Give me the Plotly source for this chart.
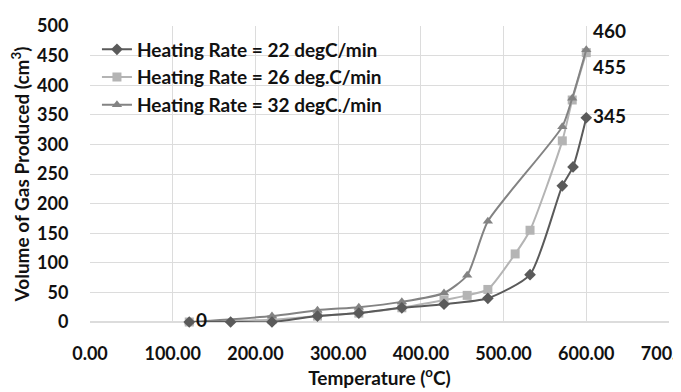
import plotly.graph_objects as go

# Series data (Temperature in degC, Volume in cm3)
temp_22 = [120, 170, 220, 275, 325, 377, 428, 481, 532, 571, 584, 600]
vol_22 = [0, 0, 0, 10, 15, 24, 30, 40, 80, 230, 262, 345]

temp_26 = [120, 220, 275, 325, 377, 428, 456, 481, 514, 532, 571, 583, 600]
vol_26 = [0, 4, 10, 15, 24, 37, 45, 55, 115, 155, 306, 375, 455]

temp_32 = [120, 220, 275, 325, 377, 428, 456, 481, 571, 583, 600]
vol_32 = [0, 10, 20, 25, 34, 49, 79, 170, 330, 378, 460]

names = ["Heating Rate = 22 degC/min", "Heating Rate = 26 deg.C/min", "Heating Rate = 32 degC./min"]
colors = ["#5a5a5a", "#b4b4b4", "#838383"]
symbols = ["diamond", "square", "triangle-up"]

FONT = "Lato"

def labels(vals, idx):
    return [str(v) if i in idx else "" for i, v in enumerate(vals)]

series = [
    (temp_22, vol_22, labels(vol_22, {0, len(vol_22) - 1}), ["middle right"] * len(vol_22)),
    (temp_26, vol_26, labels(vol_26, {len(vol_26) - 1}), ["bottom right"] * len(vol_26)),
    (temp_32, vol_32, labels(vol_32, {len(vol_32) - 1}), ["top right"] * len(vol_32)),
]

fig = go.Figure()
# draw the 22 degC/min series last so its labels sit on top; legend order kept by legendrank
for i in [1, 2, 0]:
    x, y, txt, pos = series[i]
    fig.add_trace(go.Scatter(
        x=x, y=y, name=names[i], mode="lines+markers+text", legendrank=i + 1,
        text=txt, textposition=pos, cliponaxis=False,
        textfont=dict(family=FONT, size=19, color="#111111", weight="bold"),
        line=dict(color=colors[i], width=2, shape="spline", smoothing=0.6),
        marker=dict(symbol=symbols[i], size=9, color=colors[i]),
    ))

# The page body has an 8px default margin, so the figure is 8px smaller
fig.update_layout(
    width=673, height=384,
    margin=dict(l=82, r=12, t=18, b=70),
    plot_bgcolor="white", paper_bgcolor="white",
    font=dict(family=FONT, size=18, color="#111111", weight="bold"),
    legend=dict(x=0.012, y=0.985, xanchor="left", yanchor="top",
                bgcolor="rgba(0,0,0,0)", font=dict(size=19, weight="bold"),
                tracegroupgap=0, itemwidth=30),
    showlegend=True,
)
fig.update_xaxes(range=[0, 700], dtick=100, tickformat=".2f",
                 showgrid=True, gridcolor="#dcdcdc", zeroline=False,
                 showline=False, ticks="outside", ticklen=15, tickcolor="rgba(0,0,0,0)",
                 ticklabeloverflow="allow", automargin=False,
                 title=dict(text="Temperature (<sup>o</sup>C)", font=dict(size=19, weight="bold"), standoff=8),
                 tickfont=dict(size=18, weight="bold"))
fig.update_yaxes(range=[0, 500], dtick=50,
                 showgrid=True, gridcolor="#dcdcdc", zeroline=True, zerolinecolor="#dcdcdc",
                 showline=False, ticks="outside", ticklen=17, tickcolor="rgba(0,0,0,0)",
                 automargin=False,
                 title=dict(text="Volume of Gas Produced (cm<sup>3</sup>)", font=dict(size=19, weight="bold"), standoff=2),
                 tickfont=dict(size=18, weight="bold"))

fig.write_html("out.html")
